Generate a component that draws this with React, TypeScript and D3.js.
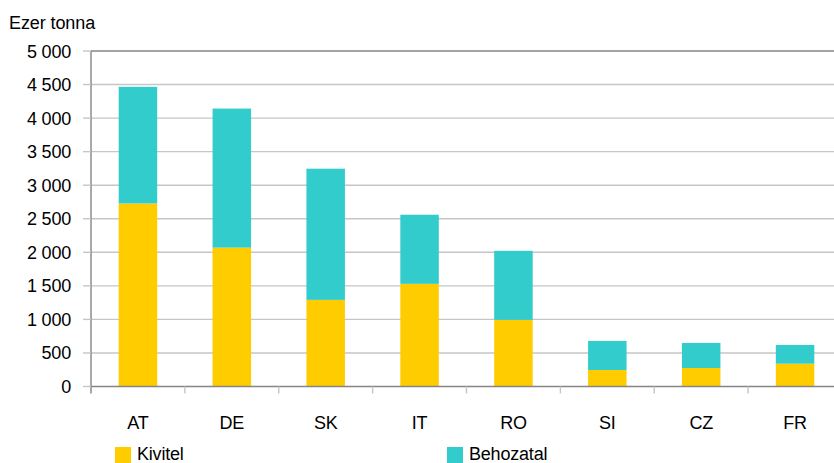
import { useEffect, useRef } from "react"
import * as d3 from "d3"

const categories = ["AT", "DE", "SK", "IT", "RO", "SI", "CZ", "FR"]
const kivitel = [2728, 2070, 1291, 1530, 993, 246, 276, 340]
const osszesen = [4466, 4142, 3246, 2560, 2022, 679, 649, 619]
const behozatal = osszesen.map((t, i) => t - kivitel[i])
const yTicks = [0, 500, 1000, 1500, 2000, 2500, 3000, 3500, 4000, 4500, 5000]
const seriesNames = ["Kivitel", "Behozatal"]
const colors = ["#FFCC00", "#33CCCC"]

const width = 834
const height = 463
const font = "'Liberation Sans', Arial, sans-serif"

const fmt = (v: number) => d3.format(",")(v).replace(/,/g, " ")

export default function App() {
  const svgRef = useRef<SVGSVGElement>(null)

  useEffect(() => {
    if (!svgRef.current) return
    const svg = d3.select(svgRef.current)
    svg.selectAll("*").remove()

    const left = 91
    const right = 842
    const top = 51
    const bottom = 386.5

    const x = d3.scaleBand<string>().domain(categories).range([left, right]).padding(0)
    const y = d3.scaleLinear().domain([0, 5000]).range([bottom, top])
    const barW = x.bandwidth() * 0.41

    // grid lines
    svg
      .append("g")
      .selectAll("line")
      .data(yTicks.filter((t) => t > 0 && t < 5000))
      .enter()
      .append("line")
      .attr("x1", left)
      .attr("x2", width)
      .attr("y1", (d) => y(d))
      .attr("y2", (d) => y(d))
      .attr("stroke", "#c6c6c6")
      .attr("stroke-width", 1.4)

    // stacked bars
    const rows = categories.map((c, i) => ({ cat: c, Kivitel: kivitel[i], Behozatal: behozatal[i] }))
    const stacked = d3.stack<any>().keys(seriesNames)(rows)

    svg
      .append("g")
      .selectAll("g")
      .data(stacked)
      .enter()
      .append("g")
      .attr("fill", (_, i) => colors[i])
      .selectAll("rect")
      .data((d) => d)
      .enter()
      .append("rect")
      .attr("x", (d) => x(d.data.cat)! + (x.bandwidth() - barW) / 2)
      .attr("y", (d) => y(d[1]))
      .attr("width", barW)
      .attr("height", (d) => y(d[0]) - y(d[1]))

    // axes
    const axisColor = "#858585"
    svg
      .append("line")
      .attr("x1", left)
      .attr("x2", width)
      .attr("y1", y(5000))
      .attr("y2", y(5000))
      .attr("stroke", axisColor)
      .attr("stroke-width", 1.4)
    svg
      .append("line")
      .attr("x1", left)
      .attr("x2", left)
      .attr("y1", y(5000))
      .attr("y2", bottom + 7)
      .attr("stroke", axisColor)
      .attr("stroke-width", 1.4)
    svg
      .append("line")
      .attr("x1", left)
      .attr("x2", width)
      .attr("y1", bottom)
      .attr("y2", bottom)
      .attr("stroke", axisColor)
      .attr("stroke-width", 1.4)

    // y tick marks and labels
    const yAxis = svg.append("g")
    yAxis
      .selectAll("line")
      .data(yTicks)
      .enter()
      .append("line")
      .attr("x1", left - 8)
      .attr("x2", left)
      .attr("y1", (d) => y(d))
      .attr("y2", (d) => y(d))
      .attr("stroke", "#c6c6c6")
      .attr("stroke-width", 1.4)
    yAxis
      .selectAll("text")
      .data(yTicks)
      .enter()
      .append("text")
      .attr("x", 71)
      .attr("y", (d) => y(d) + 6.5)
      .attr("text-anchor", "end")
      .attr("font-family", font)
      .attr("font-size", 18)
      .attr("letter-spacing", -0.2)
      .attr("fill", "#000")
      .text((d) => fmt(d))

    // x tick marks at band edges
    svg
      .append("g")
      .selectAll("line")
      .data(categories.slice(1))
      .enter()
      .append("line")
      .attr("x1", (d) => x(d)!)
      .attr("x2", (d) => x(d)!)
      .attr("y1", bottom)
      .attr("y2", bottom + 7)
      .attr("stroke", "#c6c6c6")
      .attr("stroke-width", 1.4)

    svg
      .append("g")
      .selectAll("text")
      .data(categories)
      .enter()
      .append("text")
      .attr("x", (d) => x(d)! + x.bandwidth() / 2)
      .attr("y", 429)
      .attr("text-anchor", "middle")
      .attr("font-family", font)
      .attr("font-size", 18)
      .attr("letter-spacing", -0.2)
      .attr("fill", "#000")
      .text((d) => d)

    // axis title
    svg
      .append("text")
      .attr("x", 9)
      .attr("y", 29)
      .attr("font-family", font)
      .attr("font-size", 18)
      .attr("letter-spacing", -0.1)
      .attr("fill", "#000")
      .text("Ezer tonna")

    // legend
    const legendX = [115, 447]
    const lg = svg
      .append("g")
      .selectAll("g")
      .data(seriesNames)
      .enter()
      .append("g")
      .attr("transform", (_, i) => `translate(${legendX[i]},447)`)
    lg.append("rect").attr("width", 16).attr("height", 16).attr("fill", (_, i) => colors[i])
    lg.append("text")
      .attr("x", 22)
      .attr("y", 13)
      .attr("font-family", font)
      .attr("font-size", 18)
      .attr("letter-spacing", -0.2)
      .attr("fill", "#000")
      .text((d) => d)
  }, [])

  return (
    <svg
      ref={svgRef}
      width={width}
      height={height}
      style={{ position: "absolute", left: 0, top: 0, background: "#fff" }}
    />
  )
}
